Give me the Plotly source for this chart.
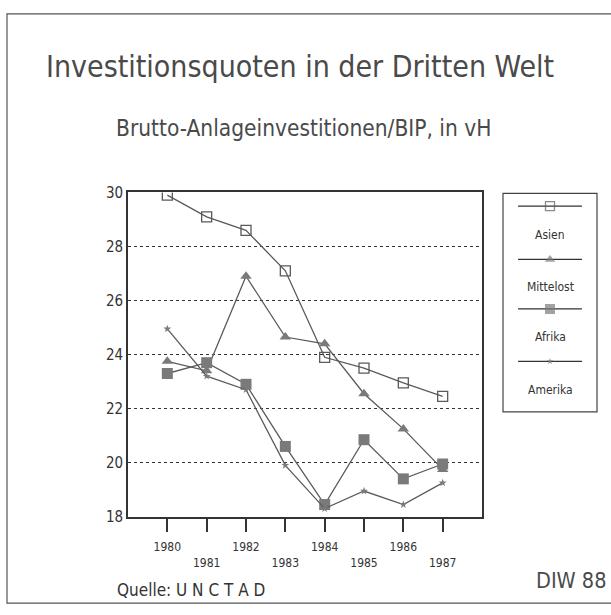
import plotly.graph_objects as go

W, H = 611, 615
years = [1980, 1981, 1982, 1983, 1984, 1985, 1986, 1987]
asien = [29.9, 29.1, 28.6, 27.1, 23.9, 23.5, 22.95, 22.45]
mittelost = [23.75, 23.4, 26.9, 24.65, 24.4, 22.55, 21.25, 19.75]
afrika = [23.3, 23.7, 22.9, 20.6, 18.45, 20.85, 19.4, 19.95]
amerika = [24.95, 23.2, 22.7, 19.9, 18.3, 18.95, 18.45, 19.25]
tick_labels = ["1980", "<br>1981", "1982", "<br>1983", "1984", "<br>1985", "1986", "<br>1987"]
y_ticks = [18, 20, 22, 24, 26, 28, 30]
names = ["Asien", "Mittelost", "Afrika", "Amerika"]

FONT = "Liberation Sans Narrow, DejaVu Sans Condensed, Arial Narrow, sans-serif"
LINE = "#5a5a5a"
FILL = "#7a7a7a"
TXT = "#4a4a4a"

def px(x):
    return x / W

def py(y):
    return 1 - y / H

styles = [
    dict(symbol="square-open", size=10, color=LINE, line=dict(width=1.3, color=LINE)),
    dict(symbol="triangle-up", size=10, color=FILL, line=dict(width=0)),
    dict(symbol="square", size=11, color=FILL, line=dict(width=0)),
    dict(symbol="star", size=6, color=FILL, line=dict(width=0)),
]
series = [asien, mittelost, afrika, amerika]

fig = go.Figure()
for n, s, st in zip(names, series, styles):
    fig.add_trace(go.Scatter(x=years, y=s, mode="lines+markers", name=n,
                             line=dict(color=LINE, width=1.3), marker=st,
                             showlegend=False, xaxis="x", yaxis="y"))

# legend drawn on an auxiliary axis pair
leg_line_y = [203, 258, 309, 363]
leg_text_y = [233, 286, 338, 392]
lx0, lx1, ly0, ly1 = 503, 597, 190, 415
for n, st, lyl, lyt in zip(names, styles, leg_line_y, leg_text_y):
    yy = (ly1 - lyl) / (ly1 - ly0)
    fig.add_trace(go.Scatter(x=[0.16, 0.5, 0.84], y=[yy, yy, yy], mode="lines+markers",
                             line=dict(color="#333", width=1.2),
                             marker=dict(st, size=[0, st["size"] - 1, 0]),
                             showlegend=False, xaxis="x2", yaxis="y2", hoverinfo="skip"))
    fig.add_annotation(x=px(550), y=py(lyt), xref="paper", yref="paper", text=n,
                       showarrow=False, font=dict(family=FONT, size=12, color="#333"),
                       xanchor="center", yanchor="middle")

fig.update_layout(
    width=W, height=H,
    margin=dict(l=0, r=0, t=0, b=0),
    paper_bgcolor="white", plot_bgcolor="white",
    xaxis=dict(domain=[px(128), px(482)], range=[1979, 1988],
               tickvals=years, ticktext=tick_labels, ticks="outside", ticklen=13,
               tickcolor="#333", tickwidth=1.5, ticklabelstandoff=5,
               showline=True, linecolor="#333", linewidth=1.8, mirror=True,
               showgrid=False, zeroline=False,
               tickfont=dict(family=FONT, size=12, color="#333")),
    yaxis=dict(domain=[py(523), py(189)], range=[18, 30],
               tickvals=y_ticks, ticks="", showline=True, linecolor="#333",
               linewidth=1.8, mirror=True, showgrid=True, gridcolor="#333",
               griddash="dot", gridwidth=1, zeroline=False,
               tickfont=dict(family=FONT, size=15, color="#333")),
    xaxis2=dict(domain=[px(lx0), px(lx1)], range=[0, 1], visible=False, fixedrange=True),
    yaxis2=dict(domain=[py(ly1), py(ly0)], range=[0, 1], visible=False, fixedrange=True),
    showlegend=False,
)

shapes = [
    dict(type="rect", xref="paper", yref="paper", x0=px(lx0), x1=px(lx1), y0=py(ly1), y1=py(ly0),
         line=dict(color="#444", width=1.2)),
    dict(type="rect", xref="paper", yref="paper", x0=px(7), x1=px(612), y0=py(612), y1=py(5),
         line=dict(color="#555", width=1.2)),
]
fig.update_layout(shapes=shapes)

fig.add_annotation(x=px(300), y=py(59), xref="paper", yref="paper",
                   text="Investitionsquoten in der Dritten Welt", showarrow=False,
                   font=dict(family=FONT, size=30, color=TXT), xanchor="center", yanchor="middle")
fig.add_annotation(x=px(303), y=py(123), xref="paper", yref="paper",
                   text="Brutto-Anlageinvestitionen/BIP, in vH", showarrow=False,
                   font=dict(family=FONT, size=22.5, color=TXT), xanchor="center", yanchor="middle")
fig.add_annotation(x=px(115), y=py(599), xref="paper", yref="paper",
                   text="Quelle: U N C T A D", showarrow=False,
                   font=dict(family=FONT, size=17, color="#333"), xanchor="left", yanchor="middle")
fig.add_annotation(x=px(608), y=py(589), xref="paper", yref="paper",
                   text="DIW 88", showarrow=False,
                   font=dict(family=FONT, size=21.5, color=TXT), xanchor="right", yanchor="middle")

fig.write_html("out.html", config={"responsive": False, "displayModeBar": False},
               post_script="document.body.style.margin='0';document.body.style.overflow='hidden';")
